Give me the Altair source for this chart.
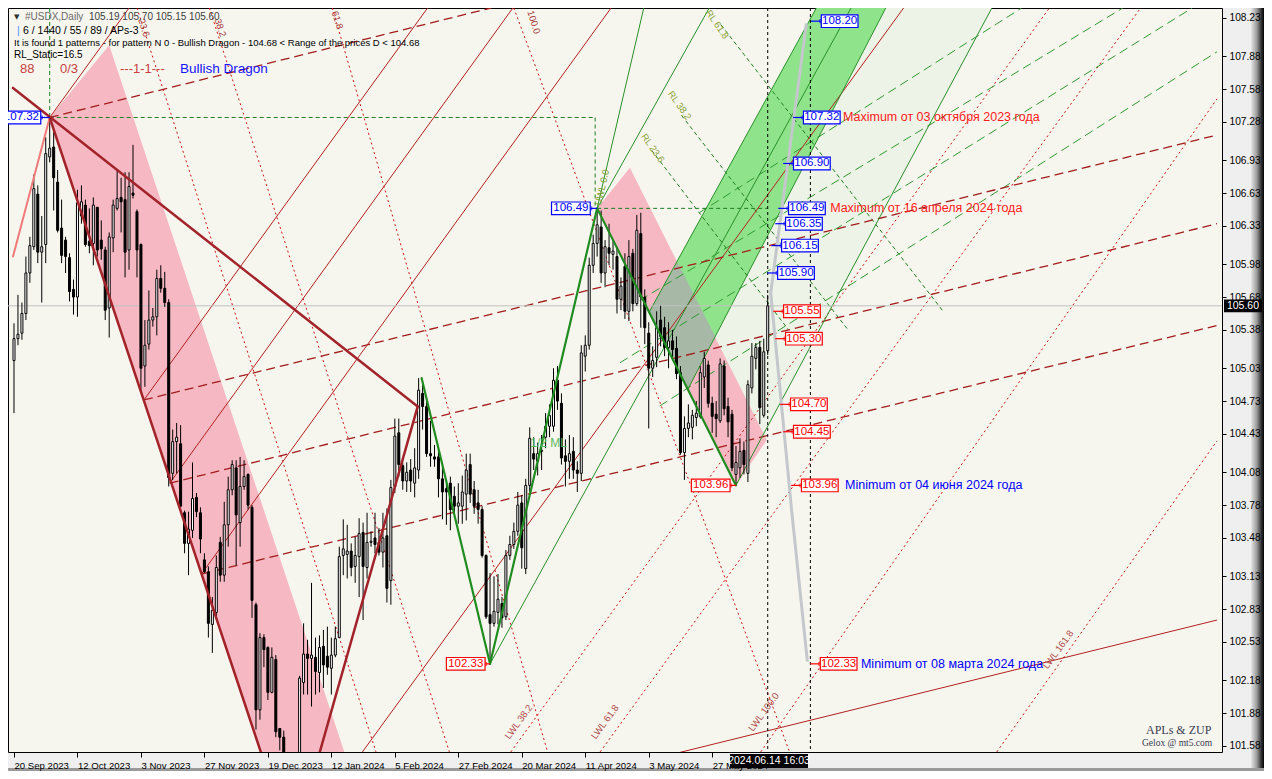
import altair as alt
import pandas as pd

# ---------------- candles (bar index 0 = 20 Sep 2023, one bar per trading day) ----------------
opens = [105.10, 105.30, 105.35, 105.53, 105.90, 106.14, 106.62, 106.09, 106.16, 106.96,
         107.05, 106.73, 106.31, 106.20, 106.04, 105.75, 105.68, 106.42, 106.52, 106.19,
         106.17, 106.50, 106.20, 106.11, 105.58, 106.22, 106.49, 106.59, 106.57, 106.11,
         106.63, 106.46, 106.16, 105.05, 105.25, 105.47, 105.50, 105.85, 105.76, 105.63,
         104.07, 104.36, 104.34, 103.71, 103.43, 103.55, 103.85, 103.71, 103.28, 103.17,
         102.69, 102.80, 103.44, 103.14, 103.60, 103.92, 104.12, 103.62, 103.95, 104.06,
         103.76, 102.87, 101.91, 102.57, 102.48, 102.07, 102.37, 101.74, 101.66, 101.47,
         100.99, 101.23, 101.35, 102.16, 102.42, 102.38, 102.39, 102.25, 102.49, 102.40,
         102.29, 102.41, 102.57, 103.32, 103.33, 103.36, 103.22, 103.31, 103.53, 103.21,
         103.44, 103.48, 103.44, 103.35, 103.50, 103.09, 103.95, 104.44, 104.14, 104.00,
         104.10, 103.98, 104.10, 104.80, 104.68, 104.25, 104.22, 104.22, 104.02, 103.93,
         103.98, 103.86, 103.77, 103.77, 103.88, 104.15, 103.92, 103.80, 103.74, 103.32,
         102.78, 102.70, 102.80, 102.88, 102.76, 103.32, 103.42, 103.54, 103.80, 103.20,
         103.96, 104.25, 104.18, 104.27, 104.40, 104.50, 104.50, 104.92, 104.71, 104.23,
         104.18, 104.27, 104.10, 104.07, 105.14, 105.24, 105.97, 106.17, 106.32, 105.90,
         106.13, 106.07, 106.05, 105.66, 105.96, 105.55, 106.08, 105.62, 106.26, 105.68,
         105.35, 105.03, 105.13, 105.47, 105.40, 105.22, 105.28, 105.21, 104.99, 104.26,
         104.48, 104.49, 104.58, 104.59, 104.95, 105.06, 104.71, 104.61, 104.55, 105.05,
         104.68, 104.61, 104.06, 104.12, 104.28, 104.07, 104.85, 105.12, 105.22, 104.60,
         105.19]
highs = [105.44, 105.70, 105.63, 106.05, 106.23, 106.80, 106.70, 106.42, 107.14, 107.32,
         107.21, 106.84, 106.57, 106.23, 106.08, 105.84, 106.66, 106.70, 106.57, 106.49,
         106.59, 106.50, 106.38, 106.14, 106.27, 106.57, 106.84, 106.77, 106.82, 106.82,
         107.07, 106.48, 106.17, 105.47, 105.74, 105.58, 105.93, 105.97, 105.91, 105.66,
         104.47, 104.53, 104.51, 103.73, 103.72, 104.17, 103.89, 103.76, 103.34, 103.22,
         102.94, 103.32, 103.49, 103.81, 104.04, 104.19, 104.19, 104.22, 104.19, 104.07,
         103.78, 102.89, 102.61, 102.60, 102.49, 102.48, 102.41, 101.74, 101.72, 101.50,
         101.30, 101.45, 102.22, 102.70, 102.55, 103.07, 102.57, 102.59, 102.64, 102.67,
         102.57, 102.67, 103.40, 103.65, 103.60, 103.43, 103.49, 103.66, 103.62, 103.71,
         103.54, 103.71, 103.57, 103.71, 103.75, 104.01, 104.57, 104.57, 104.17, 104.17,
         104.20, 104.30, 104.94, 104.90, 104.75, 104.55, 104.33, 104.30, 104.13, 103.98,
         104.04, 103.95, 103.98, 104.05, 104.25, 104.25, 104.00, 103.92, 103.77, 103.33,
         103.16, 103.13, 103.15, 102.94, 103.37, 103.50, 103.62, 103.90, 103.87, 104.02,
         104.49, 104.40, 104.35, 104.42, 104.62, 104.70, 105.03, 105.05, 104.80, 104.38,
         104.42, 104.40, 104.18, 105.24, 105.33, 106.04, 106.25, 106.49, 106.47, 106.20,
         106.35, 106.20, 106.14, 105.86, 106.08, 106.20, 106.12, 106.43, 106.45, 105.75,
         105.45, 105.23, 105.55, 105.60, 105.50, 105.45, 105.38, 105.32, 105.05, 104.59,
         104.70, 104.65, 104.73, 105.05, 105.18, 105.10, 104.77, 104.73, 105.12, 105.10,
         104.76, 104.65, 104.32, 104.39, 104.36, 104.92, 105.26, 105.26, 105.28, 105.30,
         105.70]
lows = [104.62, 105.24, 105.29, 105.47, 105.81, 106.11, 105.99, 105.63, 105.99, 106.91,
        106.47, 106.27, 105.99, 105.90, 105.64, 105.52, 105.50, 106.35, 106.14, 106.08,
        105.97, 106.05, 106.02, 105.47, 105.31, 106.09, 106.47, 106.27, 105.86, 105.93,
        106.58, 105.86, 104.81, 104.86, 105.20, 105.41, 105.33, 105.72, 105.59, 103.95,
        104.01, 104.07, 103.76, 103.34, 103.14, 103.48, 103.67, 103.34, 103.16, 102.57,
        102.43, 102.76, 103.08, 103.08, 103.40, 103.87, 103.23, 103.40, 103.92, 103.74,
        102.75, 101.73, 101.82, 102.30, 102.00, 102.06, 101.66, 101.54, 101.40, 100.90,
        100.65, 101.00, 101.30, 102.05, 102.05, 101.94, 102.05, 102.07, 102.11, 102.23,
        102.05, 102.39, 102.57, 103.14, 103.11, 103.13, 103.07, 102.94, 102.73, 103.11,
        103.40, 103.34, 103.32, 103.21, 102.89, 102.87, 103.89, 104.04, 103.92, 103.90,
        103.90, 103.85, 104.02, 104.47, 104.22, 104.13, 104.13, 103.85, 103.65, 103.60,
        103.55, 103.70, 103.61, 103.61, 103.64, 103.80, 103.70, 103.61, 103.30, 102.74,
        102.33, 102.67, 102.69, 102.66, 102.73, 103.28, 103.38, 103.50, 103.20, 103.15,
        103.90, 104.10, 104.05, 104.10, 104.30, 104.40, 104.45, 104.65, 104.15, 103.95,
        104.02, 104.02, 103.90, 104.00, 105.00, 105.20, 105.90, 106.05, 105.81, 105.77,
        105.97, 105.93, 105.53, 105.56, 105.48, 105.46, 105.55, 105.60, 105.40, 105.25,
        104.48, 104.95, 105.04, 105.23, 105.14, 105.03, 105.10, 104.93, 104.24, 104.01,
        104.40, 104.38, 104.50, 104.57, 104.85, 104.67, 104.44, 104.40, 104.53, 104.60,
        104.40, 104.09, 103.96, 104.03, 104.06, 103.99, 104.80, 105.02, 104.52, 104.58,
        105.15]
closes = [105.30, 105.34, 105.53, 105.90, 106.15, 106.67, 106.09, 106.14, 106.99, 107.04,
          106.77, 106.29, 106.06, 106.05, 105.73, 105.68, 106.54, 106.55, 106.16, 106.15,
          106.52, 106.11, 106.12, 105.56, 106.23, 106.52, 106.58, 106.55, 106.09, 106.69,
          106.61, 106.11, 105.03, 105.24, 105.47, 105.50, 105.85, 105.76, 105.63, 104.03,
          104.36, 104.40, 103.77, 103.43, 103.56, 103.84, 103.72, 103.47, 103.17, 102.70,
          102.82, 103.21, 103.14, 103.60, 103.92, 104.15, 103.69, 103.95, 104.04, 103.78,
          102.91, 101.91, 102.57, 102.46, 102.07, 102.39, 101.71, 101.66, 101.47, 100.99,
          101.23, 101.33, 102.20, 102.42, 102.38, 102.41, 102.26, 102.48, 102.32, 102.30,
          102.41, 102.56, 103.31, 103.38, 103.36, 103.21, 103.32, 103.52, 103.22, 103.44,
          103.45, 103.42, 103.35, 103.48, 103.02, 103.94, 104.41, 104.15, 104.00, 104.08,
          104.00, 104.12, 104.83, 104.68, 104.25, 104.23, 104.20, 104.02, 103.90, 103.90,
          103.74, 103.77, 103.80, 103.90, 104.10, 103.88, 103.77, 103.74, 103.32, 102.76,
          102.70, 102.81, 102.92, 102.75, 103.32, 103.42, 103.54, 103.78, 103.39, 103.96,
          104.39, 104.20, 104.25, 104.28, 104.50, 104.60, 104.92, 104.73, 104.21, 104.18,
          104.25, 104.10, 104.07, 105.17, 105.24, 105.97, 106.17, 106.34, 105.90, 106.14,
          106.08, 106.10, 105.66, 105.78, 105.55, 106.05, 105.62, 106.29, 105.68, 105.40,
          105.03, 105.10, 105.40, 105.32, 105.22, 105.28, 105.20, 104.98, 104.26, 104.48,
          104.53, 104.60, 104.62, 104.99, 105.12, 104.71, 104.59, 104.57, 105.07, 104.66,
          104.54, 104.12, 104.17, 104.27, 104.15, 104.88, 105.14, 105.22, 104.67, 105.18,
          105.60]

x_tick_values = [0, 16, 32, 48, 64, 80, 96, 112, 128, 144, 160, 176]
x_tick_labels = ["20 Sep 2023", "12 Oct 2023", "3 Nov 2023", "27 Nov 2023", "19 Dec 2023",
                 "12 Jan 2024", "5 Feb 2024", "27 Feb 2024", "20 Mar 2024", "11 Apr 2024",
                 "3 May 2024", "27 May 2024"]
price_ticks = [108.23, 107.88, 107.58, 107.28, 106.93, 106.63, 106.33, 105.98, 105.68, 105.38,
               105.03, 104.73, 104.43, 104.08, 103.78, 103.48, 103.13, 102.83, 102.53, 102.18,
               101.88, 101.58]
last_price = 105.60
cursor_bar = 190
future_bar = 200.75

# ---------------- drawn objects, (bar index, price) ----------------
pink_band_1 = [(9, 107.32), (24, 107.98), (85.25, 101.31), (70.25, 100.65)]
pink_band_2 = [(147, 106.49), (155.25, 106.86), (189.75, 104.375), (182, 103.96)]
green_band = [(160, 105.535), (202.25, 108.32), (219.75, 108.32), (169.75, 104.83)]
green_pink_overlap = [(160, 105.535), (167.25, 106.00), (176.75, 105.32), (169.75, 104.83)]
pale_zone = [(169.75, 104.83), (219.75, 108.32), (246.5, 108.32), (182, 103.96)]

thick_diagonal = [(-0.25, 107.59, 101.75, 104.68)]
red_zigzag = [(9, 107.32, 70.25, 100.65), (70.25, 100.65, 101.75, 104.68)]
light_red_leg = [(-0.25, 106.05, 9, 107.32)]
green_zigzag = [(102.75, 104.94, 120, 102.33), (120, 102.33, 147, 106.49), (147, 106.49, 182, 103.96)]
green_thin = [(147, 106.49, 158.75, 108.32), (120, 102.33, 211, 108.32), (147, 106.49, 175.25, 108.32),
              (182, 103.96, 246.5, 108.32), (160, 105.535, 202.25, 108.32), (169.75, 104.83, 219.75, 108.32)]
green_short_dash = [(9, 108.32, 9, 107.32), (9, 107.32, 146.5, 107.32), (146.5, 107.32, 146.5, 106.49),
                    (147, 106.49, 190, 106.49),
                    (160.75, 107.02, 195.25, 105.38), (168.25, 107.34, 210.25, 105.38),
                    (178.25, 108.165, 234, 105.56)]
green_long_dash = [(172.75, 106.45, 254, 108.32), (157.75, 105.65, 279.5, 108.32),
                   (152.75, 105.08, 297, 108.32), (162.75, 104.685, 303.25, 107.92)]
red_dashed = [(9, 107.32, 120.25, 108.32), (32.75, 104.74, 303.25, 107.16),
              (39.25, 103.98, 303.25, 106.35), (47.25, 103.15, 303.25, 105.42)]
red_dotted = [(31, 108.32, 91.25, 101.526), (49.25, 108.32, 109.75, 101.526),
              (80.25, 108.32, 134.5, 101.526), (126, 108.32, 195.5, 101.526),
              (125.25, 101.526, 261, 108.32), (147.75, 101.526, 284, 108.32),
              (188.25, 101.526, 303.25, 107.49), (247.75, 101.526, 303.25, 104.366)]
red_thin = [(9, 107.32, 29, 108.32), (32.75, 104.74, 104.25, 108.32), (39.25, 103.98, 125.75, 108.32),
            (47.25, 103.15, 150.5, 108.32), (70.25, 100.65, 224.25, 108.32),
            (70.25, 100.65, 303.25, 102.73)]
projection_i = [199.75, 190.75, 196, 200]
projection_p = [108.18, 105.72, 103.74, 102.35]

right_label_values = [108.20, 107.32, 106.90, 106.49, 106.35, 106.15, 105.90,
                      105.55, 105.30, 104.70, 104.45, 103.96, 102.33]
right_label_at = [203.5, 199, 196.5, 195.25, 194.5, 193.5, 192.5, 194, 194.5, 195.75, 196.5, 198.5, 203.25]
right_label_blue = [True] * 7 + [False] * 6
left_label_values = [107.32, 106.49, 102.33, 103.96]
left_label_end = [6.75, 145.25, 118.75, 180.5]
left_label_pivot = [9, 147, 120, 182]
left_label_blue = [True, True, False, False]

notes = ["Maximum от 03 октября 2023 года", "Maximum от 16 апреля 2024 года",
         "Minimum от 04 июня 2024 года", "Minimum от 08 марта 2024 года"]
notes_i = [209, 205.75, 209.5, 213.5]
notes_p = [107.32, 106.49, 103.96, 102.33]
notes_blue = [False, False, True, True]

small_tags = ["23.6", "38.2", "61.8", "100.0", "UWL 0.0", "RL 23.6", "RL 38.2", "RL 61.8",
              "LWL 38.2", "LWL 61.8", "LWL 100.0", "LWL 161.8", "1/2 ML"]
small_tags_i = [32.75, 52, 81.5, 131, 148.25, 161, 167.75, 177.25, 127.25, 149, 189, 263.25, 134.75]
small_tags_p = [108.14, 108.14, 108.21, 108.19, 106.68, 107.04, 107.43, 108.17, 101.80, 101.80, 101.89, 102.46, 104.35]
small_tags_kind = ["fib", "fib", "fib", "fib", "uwl", "rl", "rl", "rl", "lwl", "lwl", "lwl", "lwl", "ml"]

# ---------------- helpers ----------------
BLUE = "#0000ff"
RED = "#ff0000"
X_DOM = [-0.25, 303.25]
Y_DOM = [101.525, 108.32]
xs = alt.Scale(domain=X_DOM, nice=False, zero=False)
ys = alt.Scale(domain=Y_DOM, nice=False, zero=False)
FONT = "Liberation Sans"
label_expr = "[" + ",".join("'%s'" % s for s in x_tick_labels) + "][round(datum.value/16)]"
X_AXIS = alt.Axis(orient="bottom", values=x_tick_values, labelExpr=label_expr, title=None, grid=False,
                  labelAlign="left", labelFont=FONT, labelFontSize=9.6, labelColor="black",
                  tickColor="black", tickSize=5, domain=False, labelPadding=3, labelOverlap=False,
                  labelFlush=False, zindex=1)
Y_AXIS = alt.Axis(orient="right", values=price_ticks, format=".2f", title=None, grid=False,
                  labelFont=FONT, labelFontSize=10.2, labelColor="black", tickColor="black",
                  tickSize=4, domain=False, labelPadding=3, labelOverlap=False, labelFlush=False,
                  zindex=1)


def X(f):
    return alt.X(f, type="quantitative", scale=xs, axis=X_AXIS)


def Y(f):
    return alt.Y(f, type="quantitative", scale=ys, axis=Y_AXIS)


def poly_area(verts):
    xs_ = sorted(set(v[0] for v in verts))
    rows = []
    n = len(verts)
    for x in xs_:
        ps = []
        for k in range(n):
            (x1, p1), (x2, p2) = verts[k], verts[(k + 1) % n]
            if x1 == x2:
                if x == x1:
                    ps += [p1, p2]
            elif min(x1, x2) <= x <= max(x1, x2):
                ps.append(p1 + (p2 - p1) * (x - x1) / (x2 - x1))
        rows.append({"i": x, "lo": min(ps), "hi": max(ps)})
    return pd.DataFrame(rows)


def area_layer(verts, color, opacity=1.0):
    return alt.Chart(poly_area(verts)).mark_area(color=color, opacity=opacity, clip=True).encode(
        x=X("i"), y=Y("lo"), y2="hi")


def seg_layer(lst, color, width, dash=None, cap="butt"):
    kw = dict(color=color, strokeWidth=width, clip=True, strokeCap=cap)
    if dash:
        kw["strokeDash"] = dash
    df = pd.DataFrame(lst, columns=["i", "p", "i2", "p2"])
    return alt.Chart(df).mark_rule(**kw).encode(x=X("i"), y=Y("p"), x2="i2", y2="p2")


one = pd.DataFrame({"a": [0]})


def px_text(txt, x, y, size=10, color="black", font=FONT, align="left"):
    return alt.Chart(one).mark_text(text=txt, fontSize=size, color=color, font=font, align=align,
                                    baseline="middle").encode(x=alt.value(x), y=alt.value(y))


layers = []

# fills
layers.append(area_layer(pale_zone, "#edf3e6"))
layers.append(area_layer(pink_band_1, "#f6b8c2"))
layers.append(area_layer(pink_band_2, "#f6b8c2"))
layers.append(area_layer(green_band, "#8fe38a"))
layers.append(area_layer(green_pink_overlap, "#a7b8a6"))

# lines under candles
layers.append(seg_layer(red_dotted, "#cc1111", 1, [2, 3]))
layers.append(seg_layer(green_long_dash, "#2f9a2f", 1, [9, 5]))
layers.append(seg_layer(green_short_dash, "#1f7f1f", 1, [4, 3]))
layers.append(seg_layer(red_dashed, "#a31c1c", 1.3, [9, 5]))
layers.append(seg_layer(red_thin, "#b42020", 1))
layers.append(seg_layer(green_thin, "#2a8f2a", 1))
layers.append(alt.Chart(pd.DataFrame({"p": [last_price]})).mark_rule(color="#c0c0c0", strokeWidth=1).encode(
    y=Y("p")))
layers.append(alt.Chart(pd.DataFrame({"i": [cursor_bar, future_bar]})).mark_rule(
    color="black", strokeWidth=1, strokeDash=[3, 3]).encode(x=X("i")))

# candles
cdf = pd.DataFrame({"i": list(range(len(opens))), "o": opens, "h": highs, "l": lows, "c": closes})
cdf["fillc"] = ["white" if c >= o else "black" for o, c in zip(cdf.o, cdf.c)]
layers.append(alt.Chart(cdf).mark_rule(color="black", strokeWidth=1, clip=True).encode(
    x=X("i"), y=Y("l"), y2="h"))
layers.append(alt.Chart(cdf).mark_bar(size=2, stroke="black", strokeWidth=1, clip=True).encode(
    x=X("i"), y=Y("o"), y2="c", fill=alt.Fill("fillc:N", scale=None)))

# main pattern lines
layers.append(seg_layer(light_red_leg, "#f07a7a", 2, cap="round"))
layers.append(seg_layer(thick_diagonal, "#a3232b", 2.5, cap="round"))
layers.append(seg_layer(red_zigzag, "#a3232b", 2.5, cap="round"))
layers.append(seg_layer(green_zigzag, "#1f8c1f", 2.2, cap="round"))
pdf = pd.DataFrame({"i": projection_i, "p": projection_p, "k": list(range(len(projection_i)))})
layers.append(alt.Chart(pdf).mark_line(color="#c4c8cc", strokeWidth=3, clip=True).encode(
    x=X("i"), y=Y("p"), order="k:Q"))

# small rotated tags
kind_color = {"fib": "#a83a3a", "uwl": "#7f9f2f", "rl": "#8aa030", "lwl": "#b04a4a", "ml": "#5cb85c"}
kind_angle = {"fib": 72, "uwl": 283, "rl": 55, "lwl": 306, "ml": 0}
tdf = pd.DataFrame({"i": small_tags_i, "p": small_tags_p, "t": small_tags})
tdf["col"] = [kind_color[k] for k in small_tags_kind]
tdf["ang"] = [kind_angle[k] for k in small_tags_kind]
tdf["sz"] = [12 if k == "ml" else 9.5 for k in small_tags_kind]
layers.append(alt.Chart(tdf).mark_text(font=FONT, baseline="middle", align="center", clip=True).encode(
    x=X("i"), y=Y("p"), text="t:N", color=alt.Color("col:N", scale=None),
    angle=alt.Angle("ang:Q", scale=None), size=alt.Size("sz:Q", scale=None)))

# price boxes
BOX_W = 9.25
H = 0.058
rl = pd.DataFrame({"v": right_label_values, "x0": right_label_at})
rl["x1"] = rl.x0 + BOX_W
rl["xc"] = rl.x0 - 2.6
ll = pd.DataFrame({"v": left_label_values, "x1": left_label_end, "xc": left_label_pivot})
ll["x0"] = ll.x1 - BOX_W - 0.5
rl["col"] = [BLUE if b else RED for b in right_label_blue]
ll["col"] = [BLUE if b else RED for b in left_label_blue]
boxes = pd.concat([rl, ll], ignore_index=True)
boxes["xm"] = (boxes.x0 + boxes.x1) / 2
boxes["lo"] = boxes.v - H
boxes["hi"] = boxes.v + H
boxes["txt"] = boxes.v.map(lambda v: "%.2f" % v)
boxes["b"] = [x0 if xc < x0 else x1 for xc, x0, x1 in zip(boxes.xc, boxes.x0, boxes.x1)]
layers.append(alt.Chart(boxes).mark_rule(strokeWidth=1.2, clip=True).encode(
    x=X("xc"), x2="b", y=Y("v"), color=alt.Color("col:N", scale=None)))
layers.append(alt.Chart(boxes).mark_point(shape="square", size=10, filled=False, strokeWidth=1, clip=True).encode(
    x=X("b"), y=Y("v"), color=alt.Color("col:N", scale=None)))
layers.append(alt.Chart(boxes).mark_rect(fill="white", strokeWidth=1.2, clip=True).encode(
    x=X("x0"), x2="x1", y=Y("lo"), y2="hi", stroke=alt.Stroke("col:N", scale=None)))
layers.append(alt.Chart(boxes).mark_text(font=FONT, fontSize=11.5, baseline="middle", align="center",
                                         clip=True).encode(
    x=X("xm"), y=Y("v"), text="txt:N", color=alt.Color("col:N", scale=None)))

# notes
ndf = pd.DataFrame({"i": notes_i, "p": notes_p, "t": notes})
ndf["col"] = [BLUE if b else "#ff1a1a" for b in notes_blue]
layers.append(alt.Chart(ndf).mark_text(font=FONT, fontSize=12.5, align="left", baseline="middle").encode(
    x=X("i"), y=Y("p"), text="t:N", color=alt.Color("col:N", scale=None)))

# header texts (positions relative to plot)
layers.append(px_text("▼", 6, 9, size=7, color="#303030", font="DejaVu Sans"))
layers.append(px_text("#USDX,Daily", 17, 9, size=10, color="#6a6a6a"))
layers.append(px_text("105.19 105.70 105.15 105.60", 81, 9, size=10, color="#404040"))
layers.append(px_text("|", 9, 23, size=10.5, color="#4f8fff"))
layers.append(px_text("6 / 1440 / 55 / 89 / APs-3", 15, 23, size=10.5, color="black"))
layers.append(px_text("It is found 1 patterns  -  for pattern N 0 - Bullish Dragon - 104.68 < Range of the prices D < 104.68",
                      6, 35, size=9.5, color="black"))
layers.append(px_text("RL_Static=16.5", 6, 47, size=10, color="black"))
layers.append(px_text("88", 12, 61, size=13, color="#c84040"))
layers.append(px_text("0/3", 52, 61, size=13, color="#c84040"))
layers.append(px_text("---1-1---", 112, 61, size=13, color="#c84040"))
layers.append(px_text("Bullish Dragon", 172, 61, size=13.5, color="#1414ff"))
layers.append(px_text("APLs & ZUP", 1138, 722, size=12, color="#3a3a50", font="Liberation Serif"))
layers.append(px_text("Gelox @ mt5.com", 1134, 735, size=9.5, color="#3a3a50", font="Liberation Serif"))

# frame shading on the right and bottom
grad = alt.Gradient(gradient="linear", x1=0, x2=1, y1=0, y2=0,
                    stops=[alt.GradientStop(color="#e6e6e6", offset=0),
                           alt.GradientStop(color="#9a9a9a", offset=0.45),
                           alt.GradientStop(color="#303030", offset=0.8),
                           alt.GradientStop(color="#000000", offset=1)])
layers.append(alt.Chart(one).mark_rect(color=grad).encode(
    x=alt.value(1243), x2=alt.value(1256), y=alt.value(0), y2=alt.value(763)))
layers.append(alt.Chart(one).mark_rect(color="#9a9a9a").encode(
    x=alt.value(0), x2=alt.value(1256), y=alt.value(760), y2=alt.value(763)))

# current price tag and cursor date tag
layers.append(alt.Chart(pd.DataFrame({"lo": [last_price - 0.058], "hi": [last_price + 0.058]})).mark_rect(
    color="black").encode(x=alt.value(1216), x2=alt.value(1254), y=Y("lo"), y2="hi"))
layers.append(alt.Chart(pd.DataFrame({"p": [last_price], "t": ["%.2f" % last_price]})).mark_text(
    font=FONT, fontSize=10.5, color="white", align="center", baseline="middle").encode(
    x=alt.value(1235), y=Y("p"), text="t:N"))
layers.append(alt.Chart(one).mark_rect(color="black").encode(
    x=alt.value(722), x2=alt.value(800), y=alt.value(746), y2=alt.value(760)))
layers.append(px_text("2024.06.14 16:03", 761, 753, size=10.5, color="white", align="center"))

chart = alt.layer(*layers).properties(
    width=1214, height=744,
    autosize=alt.AutoSizeParams(type="none"),
    padding={"left": 0, "top": 0, "right": 42, "bottom": 19},
    background="#efefef",
).configure_view(stroke="black", strokeWidth=1, fill="#f6f6ef")

chart.save("out.html", embed_options={"renderer": "svg", "actions": False})
